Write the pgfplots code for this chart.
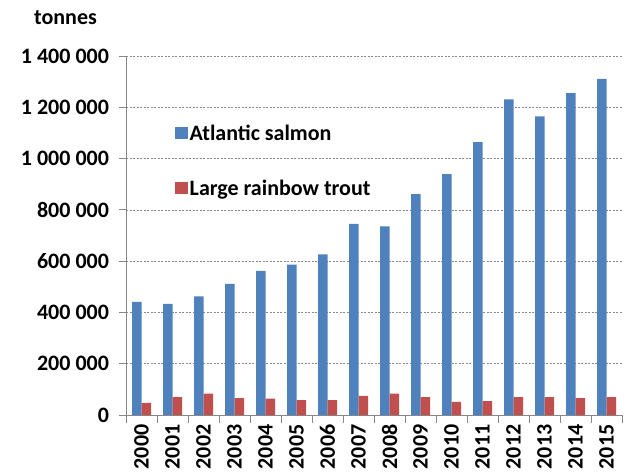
\documentclass[border=0pt]{standalone}
\usepackage{fontspec}
\setmainfont{Carlito}
\usepackage{pgfplots}
\pgfplotsset{compat=1.18}
\definecolor{salmon}{HTML}{4F81BD}
\definecolor{trout}{HTML}{C0504D}
\definecolor{axgray}{HTML}{888888}
\newcommand{\lbl}{\bfseries\fontsize{22}{22}\selectfont}
\begin{document}
\begin{tikzpicture}
\useasboundingbox (0,0) rectangle (629pt,475pt);
\begin{axis}[
  at={(126pt,60pt)}, anchor=south west,
  width=496pt, height=359pt, scale only axis,
  ybar=0pt, bar width=9.5pt,
  xmin=-0.5, xmax=15.5, ymin=0, ymax=1400000,
  xtick={-0.5,0.5,...,15.5},
  x tick label as interval,
  xticklabels={2000,2001,2002,2003,2004,2005,2006,2007,2008,2009,2010,2011,2012,2013,2014,2015},
  ytick={0,200000,400000,600000,800000,1000000,1200000,1400000},
  yticklabels={0,200 000,400 000,600 000,800 000,1 000 000,1 200 000,1 400 000},
  scaled y ticks=false,
  ymajorgrids, grid style={dash pattern=on 2pt off 1.5pt, axgray, line width=0.5pt},
  axis x line*=bottom, axis y line*=left,
  axis line style={axgray, line width=0.8pt},
  tick style={axgray, line width=0.8pt},
  tick align=outside, major tick length=7.5pt,
  xticklabel style={rotate=90, anchor=east, font=\lbl, inner sep=2pt},
  yticklabel style={font=\lbl, anchor=east, xshift=-6pt},
  legend style={at={(axis description cs:0.0988,0.815)}, anchor=north west,
    draw=none, fill=none, inner sep=0pt, row sep=34pt,
    font=\lbl, cells={anchor=west}, nodes={inner sep=2pt}},
  legend image code/.code={\fill[#1] (0pt,-6pt) rectangle (12.5pt,6.5pt);},
  clip=false,
]
\addplot[draw=none, fill=salmon] coordinates {
(0,441600) (1,433700) (2,462700) (3,511000) (4,562000) (5,586000) (6,626000) (7,745000)
(8,736000) (9,861000) (10,939000) (11,1064000) (12,1231000) (13,1165000) (14,1255000) (15,1311000)};
\addplot[draw=none, fill=trout] coordinates {
(0,47000) (1,70000) (2,83000) (3,66000) (4,63500) (5,58500) (6,58500) (7,75000)
(8,83000) (9,70000) (10,51000) (11,54500) (12,70000) (13,70000) (14,66000) (15,70000)};
\legend{Atlantic salmon, Large rainbow trout}
\end{axis}
\node[anchor=base, font=\lbl] at (65.5pt,450pt) {tonnes};
\end{tikzpicture}
\end{document}
